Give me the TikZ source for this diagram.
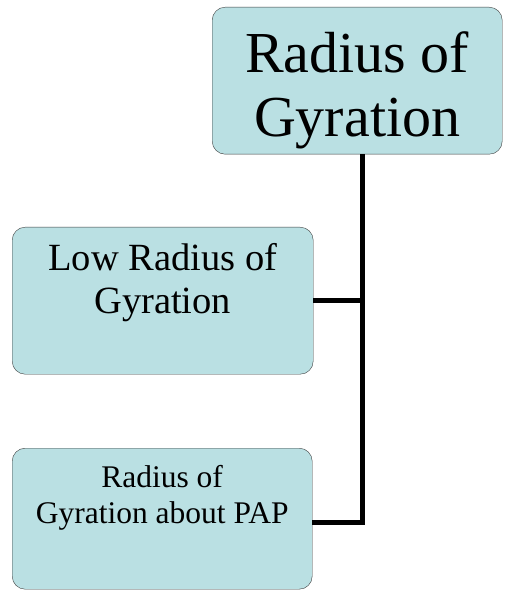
\documentclass[tikz,border=0pt]{standalone}
\usepackage{fontspec}
\setmainfont{Liberation Serif}

\definecolor{boxfill}{RGB}{186,224,227}
\definecolor{boxline}{RGB}{60,60,60}

\begin{document}
\begin{tikzpicture}[x=1pt,y=-1pt,
    box/.style={draw=boxline,fill=boxfill,rounded corners=13pt,inner sep=0pt,
      align=flush center,anchor=north west},
    link/.style={line width=5pt}]
  \useasboundingbox (0,0) rectangle (504,593);

  \node[box,text width=290pt,text height=65pt,text depth=82pt,
    font=\fontsize{58}{64}\selectfont] (root) at (212,7) {Radius of\\Gyration};
  \node[box,text width=301pt,text height=43pt,text depth=104pt,
    font=\fontsize{38.5}{43}\selectfont] (low) at (12,227) {Low Radius of\\Gyration};
  \node[box,text width=300pt,text height=39pt,text depth=102pt,
    font=\fontsize{31.5}{36}\selectfont] (pap) at (12,448) {Radius of\\Gyration about PAP};

  \coordinate (trunk) at ([xshift=5pt]root.south);
  \draw[link] (trunk) |- (low.east);
  \draw[link] (trunk) |- ([yshift=-3.5pt]pap.east);
\end{tikzpicture}
\end{document}
